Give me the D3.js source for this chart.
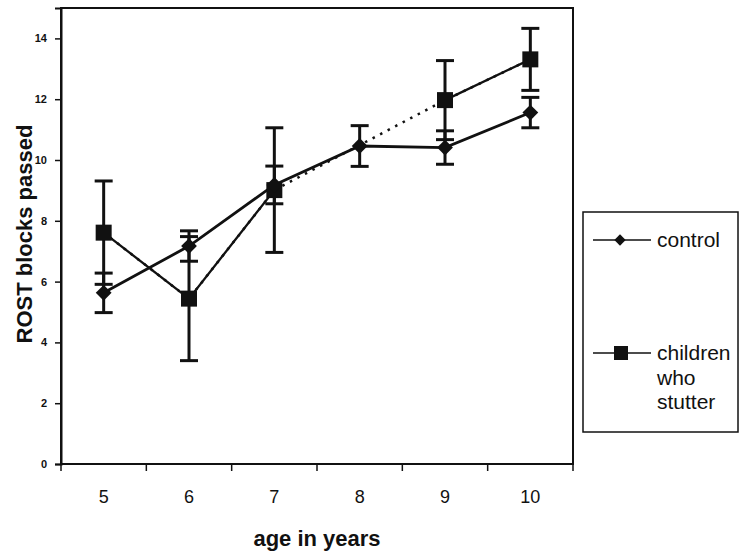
<!DOCTYPE html>
<html><head><meta charset="utf-8">
<script src="https://cdn.jsdelivr.net/npm/d3@7/dist/d3.min.js"></script>
<style>body{margin:0;background:#fff}svg{display:block}text{font-family:"Liberation Sans",Arial,sans-serif;fill:#111}</style>
</head><body>
<svg id="c" width="745" height="555"></svg>
<script>
const ages = [5, 6, 7, 8, 9, 10];
const control = [5.63, 7.17, 9.18, 10.46, 10.41, 11.56];
const controlErr = [0.65, 0.5, 0.62, 0.67, 0.55, 0.5];
const stutter = [7.61, 5.44, 9.01, null, 11.97, 13.31];
const stutterErr = [1.7, 2.04, 2.05, null, 1.3, 1.02];
const yTicks = [0, 2, 4, 6, 8, 10, 12, 14];
const seriesNames = ["control", "children who stutter"];

const svg = d3.select("#c");
const ink = "#111";
const L = 61, R = 573, T = 8, B = 464;
const x = d3.scaleBand().domain(ages).range([L, R]);
const y = d3.scaleLinear().domain([0, 15]).range([B, T]);
const cx = a => x(a) + x.bandwidth() / 2;

// plot frame
svg.append("rect").attr("x", L).attr("y", T).attr("width", R - L).attr("height", B - T)
  .attr("fill", "none").attr("stroke", ink).attr("stroke-width", 2);

// y axis
const ya = svg.append("g").attr("transform", `translate(${L},0)`)
  .call(d3.axisLeft(y).tickValues(yTicks).tickSize(6).tickPadding(8));
ya.select(".domain").attr("stroke", ink).attr("stroke-width", 2);
ya.selectAll(".tick line").attr("stroke", ink).attr("stroke-width", 1.5);
ya.selectAll(".tick text").style("font-size", "11px").style("font-weight", "bold").attr("fill", ink);

// x axis
const xa = svg.append("g").attr("transform", `translate(0,${B})`)
  .call(d3.axisBottom(x).tickSize(0).tickPadding(26));
xa.select(".domain").remove();
xa.selectAll(".tick text").style("font-size", "18px").attr("fill", ink);
const bounds = ages.map(a => x(a)).concat([x(ages[ages.length - 1]) + x.bandwidth()]);
svg.append("g").selectAll("line").data(bounds).join("line")
  .attr("x1", d => d).attr("x2", d => d).attr("y1", B).attr("y2", B + 7)
  .attr("stroke", ink).attr("stroke-width", 1.5);

// axis titles
svg.append("text").attr("x", (L + R) / 2).attr("y", 546).attr("text-anchor", "middle")
  .style("font-size", "22px").style("font-weight", "bold").text("age in years");
svg.append("text").attr("transform", `translate(32,${(T + B) / 2 - 2}) rotate(-90)`)
  .attr("text-anchor", "middle")
  .style("font-size", "22px").style("font-weight", "bold").text("ROST blocks passed");

const dS = ages.map((a, i) => ({a, v: stutter[i], e: stutterErr[i]}));
const dC = ages.map((a, i) => ({a, v: control[i], e: controlErr[i]}));

const line = d3.line().defined(d => d.v != null).x(d => cx(d.a)).y(d => y(d.v));
// dotted bridge across missing value
const sValid = dS.filter(d => d.v != null);
svg.append("path").attr("d", d3.line().x(d => cx(d.a)).y(d => y(d.v))(sValid))
  .attr("fill", "none").attr("stroke", ink).attr("stroke-width", 2.5).attr("stroke-dasharray", "2.5,6");
svg.append("path").attr("d", line(dS)).attr("fill", "none").attr("stroke", ink).attr("stroke-width", 2.3);
svg.append("path").attr("d", line(dC)).attr("fill", "none").attr("stroke", ink).attr("stroke-width", 2.8);

function errBars(data) {
  const g = svg.append("g").attr("stroke", ink).attr("stroke-width", 3);
  const dd = data.filter(d => d.v != null);
  g.selectAll(".v").data(dd).join("line")
    .attr("x1", d => cx(d.a)).attr("x2", d => cx(d.a))
    .attr("y1", d => y(d.v + d.e)).attr("y2", d => y(d.v - d.e));
  g.selectAll(".t").data(dd).join("line")
    .attr("x1", d => cx(d.a) - 9).attr("x2", d => cx(d.a) + 9)
    .attr("y1", d => y(d.v + d.e)).attr("y2", d => y(d.v + d.e));
  g.selectAll(".b").data(dd).join("line")
    .attr("x1", d => cx(d.a) - 9).attr("x2", d => cx(d.a) + 9)
    .attr("y1", d => y(d.v - d.e)).attr("y2", d => y(d.v - d.e));
}
errBars(dS);
errBars(dC);

const sq = d3.symbol().type(d3.symbolSquare).size(256);
const dm = d3.symbol().type(d3.symbolSquare).size(125);
svg.append("g").selectAll("path").data(dS.filter(d => d.v != null)).join("path")
  .attr("d", sq).attr("transform", d => `translate(${cx(d.a)},${y(d.v)})`).attr("fill", ink);
svg.append("g").selectAll("path").data(dC).join("path")
  .attr("d", dm).attr("transform", d => `translate(${cx(d.a)},${y(d.v)}) rotate(45)`).attr("fill", ink);

// legend
svg.append("rect").attr("x", 583).attr("y", 212).attr("width", 155).attr("height", 220)
  .attr("fill", "#fff").attr("stroke", ink).attr("stroke-width", 1.5);
const lg = svg.append("g");
lg.append("line").attr("x1", 593).attr("x2", 651).attr("y1", 240).attr("y2", 240).attr("stroke", ink).attr("stroke-width", 1.5);
lg.append("path").attr("d", d3.symbol().type(d3.symbolSquare).size(64)).attr("transform", "translate(620,240) rotate(45)").attr("fill", ink);
lg.append("text").attr("x", 657).attr("y", 240).attr("dy", "0.35em").style("font-size", "21px").text(seriesNames[0]);
lg.append("line").attr("x1", 593).attr("x2", 651).attr("y1", 353).attr("y2", 353).attr("stroke", ink).attr("stroke-width", 1.5);
lg.append("path").attr("d", d3.symbol().type(d3.symbolSquare).size(196)).attr("transform", "translate(621,353)").attr("fill", ink);
const words = ["children", "who", "stutter"];
const t = lg.append("text").attr("x", 657).attr("y", 353).attr("dy", "0.35em").style("font-size", "21px");
words.forEach((w, i) => t.append("tspan").attr("x", 657).attr("dy", i === 0 ? "0.35em" : "1.17em").text(w));
</script>
</body></html>
